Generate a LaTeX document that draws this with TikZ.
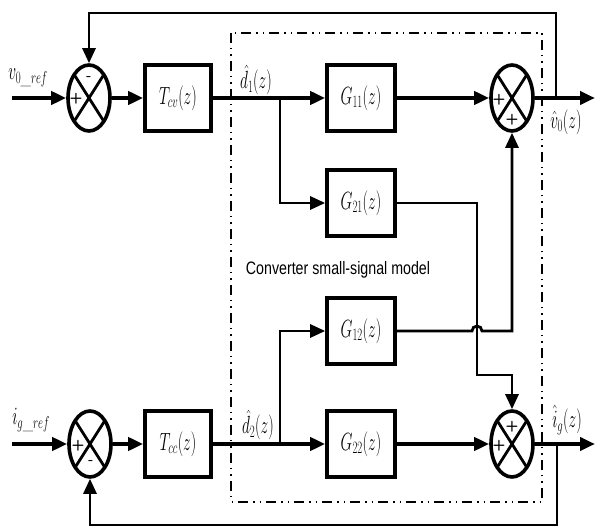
\documentclass[tikz,border=0pt]{standalone}
\usepackage{fontspec}
\usepackage{graphicx}
\usetikzlibrary{arrows.meta,shapes.geometric,calc}
\newfontfamily\convfont{Liberation Sans}
\newcommand{\nx}[1]{\scalebox{0.62}[1]{\fontsize{24}{28}\selectfont$#1$}}
\tikzset{
  blk/.style={draw, line width=3.6pt, minimum width=68pt, minimum height=66pt, inner sep=0pt},
  sumj/.style={draw, ellipse, line width=3.6pt, minimum width=42pt, minimum height=66pt, inner sep=0pt},
  sig/.style={line width=3.8pt, -{Triangle[length=15pt,width=13pt]}},
  thin/.style={line width=2.8pt},
  frame/.style={line width=2pt, dash pattern=on 10pt off 5pt on 1.5pt off 5pt on 1.5pt off 5pt},
  sgn/.style={font=\sffamily\bfseries\fontsize{15}{15}\selectfont, inner sep=0pt},
  xline/.style={line width=2.8pt},
  lbl/.style={inner sep=0pt}
}
\begin{document}
\begin{tikzpicture}[x=1pt,y=-1pt]
\useasboundingbox (0,0) rectangle (595,529);
% frame
\draw[frame] (231,33) rectangle (542,502);
\node[lbl] (conv) at (338,270) {\scalebox{0.79}[1]{\convfont\fontsize{18}{20}\selectfont Converter small-signal model}};
% summing junctions
\node[sumj] (S1) at (89,98) {};
\node[sumj] (S2) at (512,98) {};
\node[sumj] (S3) at (90,444) {};
\node[sumj] (S4) at (512,444) {};
\foreach \s in {S1,S2,S3,S4}{
  \draw[xline] ($(\s)+(-14.8,-23.3)$) -- ($(\s)+(14.8,23.3)$);
  \draw[xline] ($(\s)+(14.8,-23.3)$) -- ($(\s)+(-14.8,23.3)$);
}
\node[sgn] (s1a) at ($(S1)+(0,-19)$) {-};
\node[sgn] (s1b) at ($(S1)+(-13,1)$) {+};
\node[sgn] (s2a) at ($(S2)+(-13,2)$) {+};
\node[sgn] (s2b) at ($(S2)+(0,22)$) {+};
\node[sgn] (s3a) at ($(S3)+(-12,2)$) {+};
\node[sgn] (s3b) at ($(S3)+(1,19)$) {-};
\node[sgn] (s4a) at ($(S4)+(0,-17)$) {+};
\node[sgn] (s4b) at ($(S4)+(-13,2)$) {+};
% blocks
\node[blk, minimum width=66pt] (Tcv) at (178,98) {\nx{T_{cv}(z)}};
\node[blk, minimum width=66pt] (Tcc) at (178,444) {\nx{T_{cc}(z)}};
\node[blk] (G11) at (361,98) {\nx{G_{11}(z)}};
\node[blk] (G21) at (361,203) {\nx{G_{21}(z)}};
\node[blk] (G12) at (361,331) {\nx{G_{12}(z)}};
\node[blk] (G22) at (361,444) {\nx{G_{22}(z)}};
% labels
\node[lbl] (lv) at (28,78) {\nx{v_{0\_ref}}};
\node[lbl] (li) at (31,420) {\nx{i_{g\_ref}}};
\node[lbl] (ld1) at (256,80) {\nx{\hat{d}_1(z)}};
\node[lbl] (ld2) at (258,425) {\nx{\hat{d}_2(z)}};
\node[lbl] (lvo) at (566,122) {\nx{\hat{v}_0(z)}};
\node[lbl] (lig) at (567,420) {\nx{\hat{i}_g(z)}};
% coordinates
\coordinate (in1) at (12,98);
\coordinate (in2) at (12,444);
\coordinate (out1) at (595,98);
\coordinate (out2) at (595,444);
\coordinate (b1) at (280,98);
\coordinate (b2) at (280,444);
\coordinate (f1) at (556,98);
\coordinate (f2) at (557,444);
% top path
\draw[sig] (in1) -- (S1.west);
\draw[sig] (S1.east) -- (Tcv.west);
\draw[sig] (Tcv.east) -- (G11.west);
\draw[sig, thin] (b1) |- (G21.west);
\draw[sig] (G11.east) -- (S2.west);
\draw[sig] (S2.east) -- (out1);
\draw[sig, thin] (f1) -- (556,13) -- (89,13) -- (S1.north);
% bottom path
\draw[sig] (in2) -- (S3.west);
\draw[sig] (S3.east) -- (Tcc.west);
\draw[sig] (Tcc.east) -- (G22.west);
\draw[sig, thin] (b2) |- (G12.west);
\draw[sig] (G22.east) -- (S4.west);
\draw[sig] (S4.east) -- (out2);
\draw[sig, thin] (f2) -- (557,525) -- (90,525) -- (S3.south);
% cross couplings
\draw[sig, thin] (G21.east) -- (477,203) -- (477,375) -- (512,375) -- (S4.north);
\draw[sig, thin] (G12.east) -- (472,331) arc[start angle=180, end angle=0, radius=5pt] -- (512,331) -- (S2.south);
\end{tikzpicture}
\end{document}
